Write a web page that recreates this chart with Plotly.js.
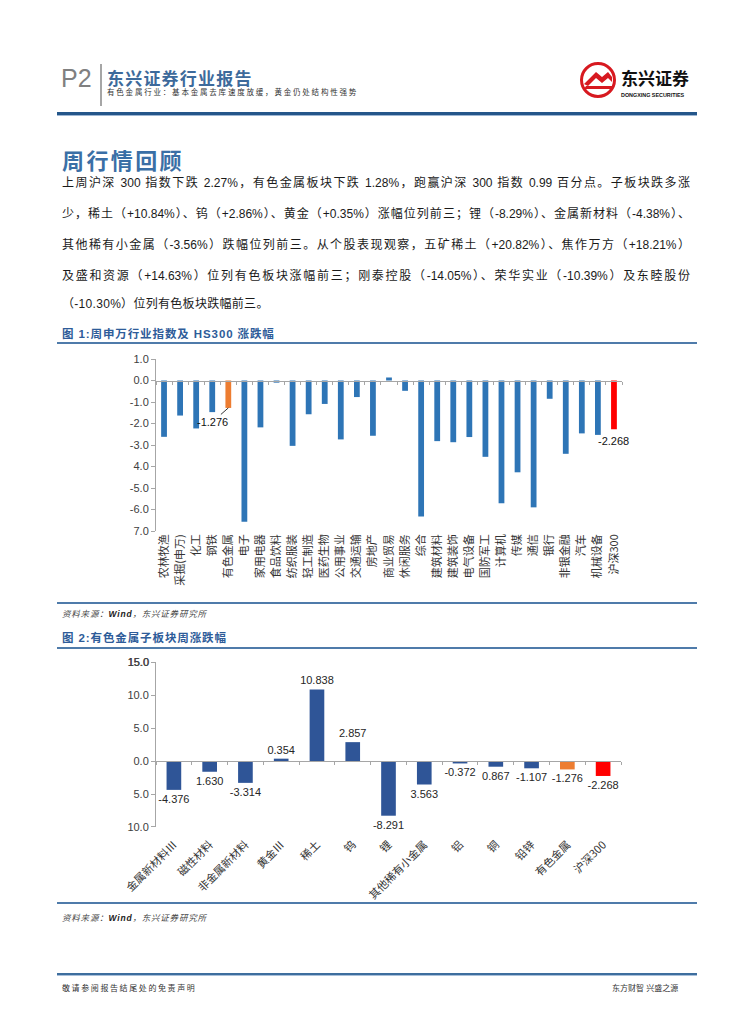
<!DOCTYPE html>
<html>
<head>
<meta charset="utf-8">
<script src="https://cdn.plot.ly/plotly-3.0.1.min.js"></script>
<style>
  html, body { margin:0; padding:0; }
  body { width:755px; height:1024px; background:#fff; position:relative; overflow:hidden;
         font-family:"Liberation Sans","Noto Sans CJK SC",sans-serif; }
  .abs { position:absolute; white-space:nowrap; }
  .hline { position:absolute; left:57px; width:640px; }
  .para { position:absolute; left:62px; width:628px; font-size:12px; line-height:16px; color:#1a1a1a;
          text-align:justify; text-align-last:justify; white-space:nowrap; }
  .cap { position:absolute; left:62px; font-size:11.5px; letter-spacing:0.9px; font-weight:bold; color:#2E5C99; white-space:nowrap; }
  .src { position:absolute; left:62px; font-size:8.5px; letter-spacing:0.8px; font-style:italic; color:#444; white-space:nowrap; }
  .chart { position:absolute; left:0; width:755px; }
</style>
</head>
<body>

<!-- header -->
<div class="abs" style="left:61px;top:64px;font-size:25px;color:#808080;font-family:'Liberation Sans';">P2</div>
<div class="abs" style="left:100px;top:64px;width:2px;height:42px;background:#A6A6A6;"></div>
<div class="abs" style="left:107px;top:65px;font-size:17px;letter-spacing:1.2px;font-weight:bold;color:#3D6A9B;">东兴证券行业报告</div>
<div class="abs" style="left:107px;top:86px;font-size:7.5px;color:#333;letter-spacing:1.8px;">有色金属行业：基本金属去库速度放缓，黄金仍处结构性强势</div>

<!-- logo -->
<svg class="abs" style="left:578px;top:60px;" width="120" height="42" viewBox="0 0 120 42">
  <circle cx="20" cy="20" r="16.5" fill="#fff" stroke="#D71920" stroke-width="3"/>
  <path d="M6 24 L18 12 L24 17 L30 12 L34 17 L34 22 L30 18 L24 23 L18 18 L10 26 Z" fill="#D71920"/>
  <path d="M6 29 L34 29 L34 26 L8 26 Z" fill="#D71920"/>
  <text x="43" y="25" font-size="17" font-weight="bold" fill="#111" font-family="Noto Sans CJK SC">东兴证券</text>
  <text x="43" y="37" font-size="5.4" fill="#111" font-family="Liberation Sans" font-weight="bold">DONGXING SECURITIES</text>
</svg>
<div class="hline" style="top:112px;height:3px;background:#24568A;"></div>
<div class="hline" style="top:115px;height:1px;background:#9DB6D3;"></div>

<!-- section title -->
<div class="abs" style="left:62px;top:143px;font-size:22px;letter-spacing:2.4px;font-weight:bold;color:#3A6FA6;">周行情回顾</div>

<!-- paragraph -->
<div class="para" style="top:175px;">上周沪深 300 指数下跌 2.27%，有色金属板块下跌 1.28%，跑赢沪深 300 指数 0.99 百分点。子板块跌多涨</div>
<div class="para" style="top:206px;">少，稀土（+10.84%）、钨（+2.86%）、黄金（+0.35%）涨幅位列前三；锂（-8.29%）、金属新材料（-4.38%）、</div>
<div class="para" style="top:237px;">其他稀有小金属（-3.56%）跌幅位列前三。从个股表现观察，五矿稀土（+20.82%）、焦作万方（+18.21%）</div>
<div class="para" style="top:268px;">及盛和资源（+14.63%）位列有色板块涨幅前三；刚泰控股（-14.05%）、荣华实业（-10.39%）及东睦股份</div>
<div class="para" style="top:296px;text-align:left;text-align-last:left;width:auto;letter-spacing:0.3px;">（-10.30%）位列有色板块跌幅前三。</div>

<!-- figure 1 -->
<div class="cap" style="top:325px;">图 1:周申万行业指数及 HS300 涨跌幅</div>
<div class="hline" style="top:342px;height:2px;background:#4F7BAA;"></div>
<div id="chart1" class="chart" style="top:345px;height:255px;"></div>
<div class="hline" style="top:602px;height:2px;background:#4F7BAA;"></div>
<div class="src" style="top:607px;">资料来源：<span style="font-weight:bold;color:#222;">Wind</span>，东兴证券研究所</div>

<!-- figure 2 -->
<div class="cap" style="top:629px;">图 2:有色金属子板块周涨跌幅</div>
<div id="chart2" class="chart" style="top:644px;height:262px;"></div>
<div class="hline" style="top:647px;height:2px;background:#4F7BAA;"></div>
<div class="hline" style="top:902px;height:2px;background:#4F7BAA;"></div>
<div class="src" style="top:911px;">资料来源：<span style="font-weight:bold;color:#222;">Wind</span>，东兴证券研究所</div>

<!-- footer -->
<div class="hline" style="top:973px;height:2px;background:#3E6E9E;"></div>
<div class="hline" style="top:975px;height:1px;background:#A9C0DA;"></div>
<div class="abs" style="left:62px;top:982px;font-size:8px;letter-spacing:1.6px;color:#333;">敬请参阅报告结尾处的免责声明</div>
<div class="abs" style="left:612px;top:982px;font-size:8px;color:#333;">东方财智 兴盛之源</div>

<script>
// ---------- Figure 1 data ----------
const industries = ['农林牧渔','采掘(申万)','化工','钢铁','有色金属','电子','家用电器','食品饮料','纺织服装','轻工制造',
  '医药生物','公用事业','交通运输','房地产','商业贸易','休闲服务','综合','建筑材料','建筑装饰','电气设备',
  '国防军工','计算机','传媒','通信','银行','非银金融','汽车','机械设备','沪深300'];
const industryChange = [-2.62,-1.63,-2.23,-1.47,-1.276,-6.57,-2.18,-0.10,-3.04,-1.57,
  -1.09,-2.74,-0.77,-2.57,0.14,-0.48,-6.32,-2.82,-2.87,-2.63,
  -3.55,-5.71,-4.27,-5.90,-0.85,-3.41,-2.46,-2.53,-2.268];
const y1TickVals = [1,0,-1,-2,-3,-4,-5,-6,-7];
const y1TickText = ['1.0','0.0','-1.0','-2.0','-3.0','4.0','-5.0','-6.0','7.0'];
const fig1Labelled = ['有色金属','沪深300'];
const fig1LabelText = ['-1.276','-2.268'];

// ---------- Figure 2 data ----------
const subsectors = ['金属新材料Ⅲ','磁性材料','非金属新材料','黄金Ⅲ','稀土','钨','锂','其他稀有小金属','铝','铜','铅锌','有色金属','沪深300'];
const subsectorChange = [-4.376,-1.630,-3.314,0.354,10.838,2.857,-8.291,-3.563,-0.372,-0.867,-1.107,-1.276,-2.268];
const subsectorLabels = ['-4.376','1.630','-3.314','0.354','10.838','2.857','-8.291','3.563','-0.372','0.867','-1.107','-1.276','-2.268'];
const y2TickVals = [15,10,5,0,-5,-10];
const y2TickText = ['15.0','10.0','5.0','0.0','5.0','10.0'];

const AX = '#A6A6A6';
const TXT = '#404040';
const cjk = '"Noto Sans CJK SC", sans-serif';
const lat = '"Liberation Sans", Arial, sans-serif';

function colorFor(c, base){
  if (c === '有色金属') return '#ED7D31';
  if (c === '沪深300') return '#FF0000';
  return base;
}

// ---------- Chart 1 ----------
const t1 = {
  type:'bar', x:industries, y:industryChange, width:0.36,
  marker:{color:industries.map(c=>colorFor(c,'#2E75B6')), line:{width:0}},
  hoverinfo:'skip'
};
const t1axis = {
  type:'scatter', x:industries, y:industries.map(()=>0), xaxis:'x2', yaxis:'y',
  mode:'markers', marker:{opacity:0}, hoverinfo:'skip', showlegend:false
};
const i1 = industries.indexOf(fig1Labelled[0]);
const i2 = industries.indexOf(fig1Labelled[1]);
const layout1 = {
  width:755, height:255,
  margin:{l:156, r:133, t:14, b:69},
  paper_bgcolor:'rgba(0,0,0,0)', plot_bgcolor:'rgba(0,0,0,0)',
  showlegend:false,
  font:{family:lat, color:TXT},
  xaxis:{type:'category', categoryorder:'array', categoryarray:industries, range:[-0.5, industries.length-0.5],
    tickangle:-90, tickfont:{family:cjk, size:11, color:'#333'}, showline:false, ticks:'',
    showgrid:false, zeroline:false, automargin:false, fixedrange:true},
  xaxis2:{type:'category', categoryorder:'array', categoryarray:industries, range:[-0.5, industries.length-0.5],
    overlaying:'x', anchor:'free', position:0.875, showline:true, linecolor:AX, linewidth:1,
    ticks:'outside', tickson:'boundaries', ticklen:3, tickcolor:AX, showticklabels:false, showgrid:false, zeroline:false},
  yaxis:{range:[-7.0001,1.0001], tickvals:y1TickVals, ticktext:y1TickText, showline:true, linecolor:AX, linewidth:1,
    ticks:'outside', ticklen:4, tickcolor:AX, tickfont:{family:lat, size:11, color:TXT}, ticklabeloverflow:'allow',
    showgrid:false, zeroline:false, automargin:false},
  annotations:[
    {x:industries[i1], y:industryChange[i1], xref:'x', yref:'y', text:fig1LabelText[0], showarrow:true,
     arrowhead:0, arrowwidth:0.8, arrowcolor:'#000', ax:-16, ay:14, font:{family:lat, size:11, color:'#111'}},
    {x:industries[i2], y:industryChange[i2], xref:'x', yref:'y', text:fig1LabelText[1], showarrow:false,
     yanchor:'top', yshift:-4, font:{family:lat, size:11, color:'#111'}}
  ]
};
Plotly.newPlot('chart1', [t1, t1axis], layout1, {staticPlot:true});

// ---------- Chart 2 ----------
const t2 = {
  type:'bar', x:subsectors, y:subsectorChange, width:0.41,
  marker:{color:subsectors.map(c=>colorFor(c,'#2F5597')), line:{width:0}},
  text:subsectorLabels, texttemplate:'%{text}', textposition:'outside', cliponaxis:false,
  constraintext:'none', textfont:{family:lat, size:11, color:'#262626'}, hoverinfo:'skip'
};
const t2axis = {
  type:'scatter', x:subsectors, y:subsectors.map(()=>0), xaxis:'x2', yaxis:'y',
  mode:'markers', marker:{opacity:0}, hoverinfo:'skip', showlegend:false
};
const layout2 = {
  width:755, height:262,
  margin:{l:156, r:134, t:18, b:79},
  paper_bgcolor:'rgba(0,0,0,0)', plot_bgcolor:'rgba(0,0,0,0)',
  showlegend:false,
  font:{family:lat, color:TXT},
  xaxis:{type:'category', categoryorder:'array', categoryarray:subsectors, range:[-0.5, subsectors.length-0.5],
    tickangle:-45, tickfont:{family:cjk, size:11, color:'#333'}, showline:false, ticks:'outside', ticklen:6,
    tickcolor:'rgba(0,0,0,0)', showgrid:false, zeroline:false, automargin:false},
  xaxis2:{type:'category', categoryorder:'array', categoryarray:subsectors, range:[-0.5, subsectors.length-0.5],
    overlaying:'x', anchor:'free', position:0.4, showline:true, linecolor:AX, linewidth:1,
    ticks:'outside', tickson:'boundaries', ticklen:3, tickcolor:AX, showticklabels:false, showgrid:false, zeroline:false},
  yaxis:{range:[-10.001,15.001], tickmode:'array', tickvals:y2TickVals, ticktext:y2TickText, showline:true, linecolor:AX, linewidth:1,
    ticks:'outside', ticklen:4, tickcolor:AX, tickfont:{family:lat, size:11, color:TXT}, ticklabeloverflow:'allow',
    showgrid:false, zeroline:false, automargin:false},
  annotations:[
    {xref:'paper', x:0, yref:'y', y:y2TickVals[0], text:y2TickText[0], showarrow:false,
     xanchor:'right', yanchor:'middle', xshift:-5, font:{family:lat, size:11, color:TXT}}
  ]
};
Plotly.newPlot('chart2', [t2, t2axis], layout2, {staticPlot:true});
</script>
</body>
</html>
